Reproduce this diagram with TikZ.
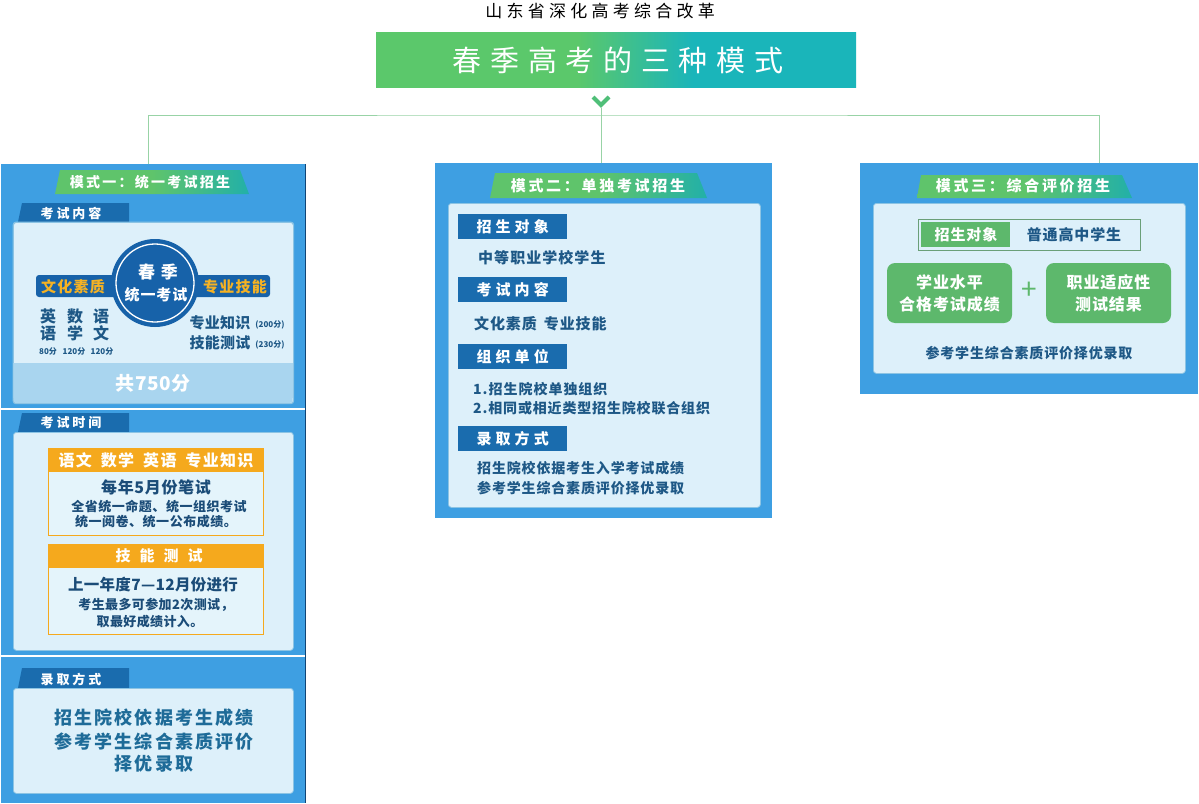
\documentclass[tikz,border=0pt]{standalone}
\usepackage{fontspec}
\setmainfont{Noto Sans CJK SC}
\definecolor{pblue}{HTML}{3E9FE2}
\definecolor{lightc}{HTML}{DDF0FA}
\definecolor{lbord}{HTML}{8CC4E4}
\definecolor{dblue}{HTML}{1A6CAE}
\definecolor{cblue}{HTML}{1762A9}
\definecolor{tgA}{HTML}{5FC46B}
\definecolor{tgB}{HTML}{22B0A8}
\definecolor{bnA}{HTML}{5BC86B}
\definecolor{bnB}{HTML}{1AB5BA}
\definecolor{tdark}{HTML}{1E5886}
\definecolor{tnavy}{HTML}{1B4C78}
\definecolor{orng}{HTML}{F5A91D}
\definecolor{obody}{HTML}{E4F4FB}
\definecolor{gbox}{HTML}{5DB86C}
\definecolor{zsb}{HTML}{6A9F78}
\definecolor{lineg}{HTML}{98D3A6}
\definecolor{chevg}{HTML}{4FBF78}
\definecolor{bandc}{HTML}{A9D5EF}
\definecolor{ytext}{HTML}{F5B223}
\definecolor{t3}{HTML}{1E6B98}
\pgfdeclarehorizontalshading{bann}{100bp}{color(0bp)=(bnA); color(46bp)=(bnA); color(58bp)=(bnB); color(100bp)=(bnB)}
\pgfdeclarehorizontalshading{tabsh}{100bp}{color(0bp)=(tgA); color(50bp)=(tgA); color(75bp)=(tgB); color(100bp)=(tgB)}
\newcommand\fz[2]{\fontsize{#1}{#1}\selectfont\bfseries\addfontfeatures{LetterSpace=#2}}
\newcommand\fzl[3]{\fontsize{#1}{#2}\selectfont\bfseries\addfontfeatures{LetterSpace=#3}}
\tikzset{
 panel/.style={fill=pblue, inner sep=0, anchor=north west},
 lbox/.style={fill=lightc, draw=lbord, line width=0.8pt, rounded corners=3pt, inner sep=0, anchor=north west},
 dtab/.style={fill=dblue, text=white, inner sep=0, anchor=north west},
 wt/.style={text=white, inner sep=0},
 dt/.style={text=tdark, inner sep=0},
 nv/.style={text=tnavy, inner sep=0},
 obox/.style={fill=obody, draw=orng, line width=1pt, inner sep=0, anchor=north west},
 gb/.style={fill=gbox, rounded corners=8pt, text=white, inner sep=0, align=center},
 conn/.style={draw=lineg, line width=1pt},
}
\begin{document}
\begin{tikzpicture}[x=1pt,y=-1pt]
\useasboundingbox (0,0) rectangle (1199,803);
% ---------- title ----------
\node[inner sep=0, text=black, font=\fontsize{17}{17}\selectfont\addfontfeatures{LetterSpace=25}] (title) at (600,11) {山东省深化高考综合改革};
\node[shade, shading=bann, minimum width=480pt, minimum height=55pt, inner sep=0, anchor=north west] (banner) at (376,32) {};
\node[inner sep=0, text=white, font=\fontsize{29}{29}\selectfont\addfontfeatures{LetterSpace=30}] (btxt) at (618,60) {春季高考的三种模式};
\draw[chevg, line width=4pt] (593,97) -- (601,105) -- (609,97);
\coordinate (chev) at (601,108);
\coordinate (hub) at (601,115);
% ---------- panels ----------
\node[panel, minimum width=304pt, minimum height=244pt] (p1a) at (1,164) {};
\node[panel, minimum width=304pt, minimum height=245pt] (p1b) at (1,410) {};
\node[panel, minimum width=304pt, minimum height=146pt] (p1c) at (1,657) {};
\draw[cblue!70!black, line width=1.2pt] (p1a.north east) -- (p1c.south east);
\node[panel, minimum width=337pt, minimum height=355pt] (p2) at (435,163) {};
\node[panel, minimum width=338pt, minimum height=231pt] (p3) at (860,163) {};
\coordinate (j1) at (148,164);
\coordinate (j3) at (1099,163);
% ---------- connectors ----------
\draw[conn] (chev) -- (chev |- p2.north);
\draw[conn] (j1) |- (hub) -| (j3);
% =========== mode 1 ===========
\shade[shading=tabsh] (55,194) -- (60,170) -- (240,170) -- (249,194) -- cycle;
\node[wt, font=\fz{14}{16}] (m1t) at (150,182) {模式一：统一考试招生};
% --- exam content
\fill[dblue] (18,222) -- (22,203) -- (129,203) -- (129,222) -- cycle;
\node[wt, font=\fz{13}{22}] (k1) at (71,213) {考试内容};
\node[lbox, minimum width=280pt, minimum height=181pt] (b1) at (13,222) {};
\fill[bandc] (13.4,363) rectangle (292.6,398);
\fill[bandc, rounded corners=3pt] (13.4,390) rectangle (292.6,403);
\draw[lbord, line width=0.8pt, rounded corners=3pt] (b1.north west) rectangle (b1.south east);
\fill[cblue, rounded corners=3pt] (36,275) rectangle (270,297);
\node[circle, fill=cblue, minimum size=88pt, inner sep=0] (circ) at (155,283) {};
\draw[white, line width=1.3pt] (circ.center) circle[radius=39pt];
\node[wt, font=\fz{17}{35}] (c1) at (158,272) {春季};
\node[wt, font=\fz{15}{6}] (c2) at (156,295) {统一考试};
\node[inner sep=0, text=ytext, font=\fz{15}{8}] (wh) at (73,287) {文化素质};
\node[inner sep=0, text=ytext, font=\fz{15}{8}] (zy) at (235,287) {专业技能};
\node[dt, align=center, font=\fzl{16}{17}{0}] (s1) at (48,325) {英\\语};
\node[dt, align=center, font=\fzl{16}{17}{0}] (s2) at (75,325) {数\\学};
\node[dt, align=center, font=\fzl{16}{17}{0}] (s3) at (101,325) {语\\文};
\node[dt, font=\fz{8}{0}] (n1) at (48,351) {80分};
\node[dt, font=\fz{8}{0}] (n2) at (74,351) {120分};
\node[dt, font=\fz{8}{0}] (n3) at (102,351) {120分};
\node[dt, font=\fz{15}{2}] (zs1) at (220,323) {专业知识};
\node[dt, font=\fz{8}{0}] (zs1n) at (270,325) {(200分)};
\node[dt, font=\fz{15}{2}] (zs2) at (220,343) {技能测试};
\node[dt, font=\fz{8}{0}] (zs2n) at (270,345) {(230分)};
\node[wt, font=\fz{19}{2}] (tot) at (153,383) {共750分};
% --- exam time
\fill[dblue] (18,432) -- (22,413) -- (129,413) -- (129,432) -- cycle;
\node[wt, font=\fz{13}{22}] (k2) at (71,423) {考试时间};
\node[lbox, minimum width=280pt, minimum height=218pt] (b2) at (13,432) {};
\node[obox, minimum width=215pt, minimum height=87pt] (o1) at (48,448) {};
\fill[orng] (o1.north west) rectangle (263,472);
\node[wt, font=\fz{16}{8}] (o1h) at (156,460) {语文\hspace{9pt}数学\hspace{9pt}英语\hspace{9pt}专业知识};
\node[nv, font=\fz{16}{4}] (o1a) at (156,487) {每年5月份笔试};
\node[nv, font=\fz{13}{4}] (o1b) at (159,507) {全省统一命题、统一组织考试};
\node[nv, font=\fz{13}{4}] (o1c) at (156,522) {统一阅卷、统一公布成绩。};
\node[obox, minimum width=215pt, minimum height=90pt] (o2) at (48,544) {};
\fill[orng] (o2.north west) rectangle (263,568);
\node[wt, font=\fz{15}{60}] (o2h) at (159,556) {技能测试};
\node[nv, font=\fz{15.5}{2}] (o2a) at (153,585) {上一年度7—12月份进行};
\node[nv, font=\fz{13}{3}] (o2b) at (156,605) {考生最多可参加2次测试，};
\node[nv, font=\fz{13}{3}] (o2c) at (150,622) {取最好成绩计入。};
% --- admission
\fill[dblue] (18,688) -- (22,668) -- (129,668) -- (129,688) -- cycle;
\node[wt, font=\fz{13}{22}] (k3) at (71,679) {录取方式};
\node[lbox, minimum width=280pt, minimum height=105pt] (b3) at (13,688) {};
\node[text=t3, inner sep=0, font=\fz{18}{12}] (l1) at (154,718) {招生院校依据考生成绩};
\node[text=t3, inner sep=0, font=\fz{18}{12}] (l2) at (154,742) {参考学生综合素质评价};
\node[text=t3, inner sep=0, font=\fz{18}{12}] (l3) at (154,764) {择优录取};
% =========== mode 2 ===========
\shade[shading=tabsh] (490,198) -- (495,173) -- (697,173) -- (707,198) -- cycle;
\node[wt, font=\fz{15}{18}] (m2t) at (598,186) {模式二：单独考试招生};
\node[lbox, minimum width=312pt, minimum height=304pt] (b4) at (448,203) {};
\node[dtab, minimum width=109pt, minimum height=25pt, font=\fz{15}{27}] (q1) at (458,214) {招生对象};
\node[dtab, minimum width=109pt, minimum height=25pt, font=\fz{15}{27}] (q2) at (458,277) {考试内容};
\node[dtab, minimum width=109pt, minimum height=25pt, font=\fz{15}{27}] (q3) at (458,344) {组织单位};
\node[dtab, minimum width=109pt, minimum height=25pt, font=\fz{15}{27}] (q4) at (458,426) {录取方式};
\node[dt, anchor=west, font=\fz{15}{7}] (a1) at (478,258) {中等职业学校学生};
\node[dt, anchor=west, font=\fz{15}{6}] (a2) at (474,324) {文化素质\hspace{7pt}专业技能};
\node[dt, anchor=west, font=\fz{14}{7}] (a3) at (473,389) {1.招生院校单独组织};
\node[dt, anchor=west, font=\fz{14}{6}] (a4) at (473,408) {2.相同或相近类型招生院校联合组织};
\node[dt, anchor=west, font=\fz{14}{6}] (a5) at (477,468) {招生院校依据考生入学考试成绩};
\node[dt, anchor=west, font=\fz{14}{6}] (a6) at (477,488) {参考学生综合素质评价择优录取};
% =========== mode 3 ===========
\shade[shading=tabsh] (917,198) -- (921,175) -- (1122,175) -- (1132,198) -- cycle;
\node[wt, font=\fz{15}{18}] (m3t) at (1023,186) {模式三：综合评价招生};
\node[lbox, minimum width=312pt, minimum height=170pt] (b5) at (873,203) {};
\node[draw=zsb, line width=1.2pt, fill=lightc, inner sep=0, anchor=north west, minimum width=222pt, minimum height=31pt] (zsbox) at (918,219) {};
\fill[gbox] (921,222) rectangle (1010,247);
\node[wt, font=\fz{15}{6}] (zt1) at (966,235) {招生对象};
\node[dt, font=\fz{15}{6}] (zt2) at (1074,235) {普通高中学生};
\node[gb, minimum width=125pt, minimum height=60pt, font=\fzl{16}{22}{6}] (g1) at (949.5,293) {学业水平\\合格考试成绩};
\node[gb, minimum width=125pt, minimum height=60pt, font=\fzl{16}{22}{6}] (g2) at (1108.5,293) {职业适应性\\测试结果};
\node[inner sep=0, text=gbox, font=\fontsize{28}{28}\selectfont] (plus) at (1029,291) {+};
\node[dt, font=\fz{14}{6}] (r3) at (1029,353) {参考学生综合素质评价择优录取};
\end{tikzpicture}
\end{document}
